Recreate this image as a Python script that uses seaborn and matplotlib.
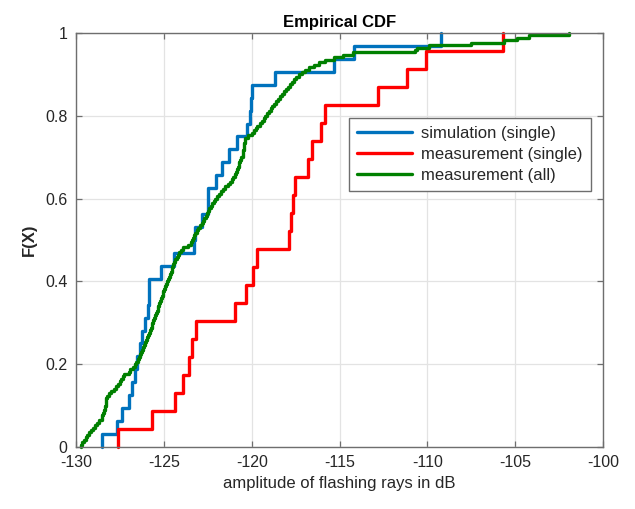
import numpy as np
import pandas as pd
import matplotlib
matplotlib.use("Agg")
import matplotlib.pyplot as plt
import seaborn as sns

# ---- data (sample values in dB) ----
simulation_single = [
    -128.51, -127.66, -127.38, -127.00, -126.80, -126.65, -126.50, -126.38,
    -126.25, -126.05, -125.90, -125.87, -125.85, -125.17, -124.45, -123.30,
    -123.22, -122.84, -122.50, -122.47, -122.03, -121.70, -121.27, -120.86,
    -120.29, -120.10, -120.05, -120.00, -118.65, -115.34, -114.15, -109.25,
]

measurement_single = [
    -127.63, -125.68, -124.36, -123.90, -123.56, -123.37, -123.17, -120.95,
    -120.33, -119.95, -119.69, -117.87, -117.74, -117.65, -117.55, -116.80,
    -116.55, -116.07, -115.85, -112.82, -111.18, -110.05, -105.68,
]

measurement_all = [
    -129.74, -129.65, -129.55, -129.45, -129.36, -129.26, -129.16, -129.05,
    -128.93, -128.82, -128.67, -128.54, -128.50, -128.46, -128.42, -128.37,
    -128.33, -128.31, -128.29, -128.27, -128.25, -128.14, -127.99, -127.85,
    -127.71, -127.60, -127.51, -127.43, -127.34, -127.26, -127.00, -126.90,
    -126.78, -126.67, -126.57, -126.49, -126.40, -126.33, -126.28, -126.24,
    -126.19, -126.14, -126.08, -126.03, -125.97, -125.92, -125.86, -125.81,
    -125.75, -125.70, -125.65, -125.59, -125.54, -125.49, -125.45, -125.40,
    -125.35, -125.31, -125.26, -125.21, -125.17, -125.12, -125.07, -125.02,
    -124.97, -124.92, -124.87, -124.82, -124.77, -124.72, -124.67, -124.62,
    -124.56, -124.51, -124.46, -124.40, -124.35, -124.27, -124.19, -124.11,
    -124.03, -123.89, -123.65, -123.48, -123.41, -123.34, -123.27, -123.20,
    -123.11, -123.03, -122.94, -122.85, -122.76, -122.69, -122.62, -122.55,
    -122.48, -122.41, -122.32, -122.24, -122.16, -122.07, -121.98, -121.87,
    -121.76, -121.64, -121.51, -121.37, -121.24, -121.14, -121.04, -120.94,
    -120.87, -120.83, -120.79, -120.75, -120.71, -120.66, -120.60, -120.52,
    -120.49, -120.47, -120.45, -120.43, -120.41, -120.39, -120.36, -120.22,
    -119.99, -119.89, -119.78, -119.67, -119.55, -119.44, -119.32, -119.22,
    -119.12, -119.02, -118.92, -118.82, -118.72, -118.60, -118.49, -118.38,
    -118.27, -118.16, -118.05, -117.94, -117.82, -117.70, -117.58, -117.47,
    -117.31, -117.14, -116.98, -116.76, -116.48, -116.17, -115.80, -115.30,
    -114.80, -114.24, -110.70, -110.60, -109.90, -107.53, -105.64, -104.88,
    -104.22, -101.95,
]

series_labels = ["simulation (single)", "measurement (single)", "measurement (all)"]
series_colors = ["#0072BD", "#FF0000", "#008000"]
x_ticks = [-130, -125, -120, -115, -110, -105, -100]
y_ticks = [0, 0.2, 0.4, 0.6, 0.8, 1]
y_tick_labels = ["0", "0.2", "0.4", "0.6", "0.8", "1"]

df = pd.concat([
    pd.DataFrame({"value": simulation_single, "series": series_labels[0]}),
    pd.DataFrame({"value": measurement_single, "series": series_labels[1]}),
    pd.DataFrame({"value": measurement_all, "series": series_labels[2]}),
], ignore_index=True)

sns.set_theme(style="white")
plt.rcParams["font.family"] = ["Liberation Sans", "DejaVu Sans"]

fig = plt.figure(figsize=(6.35, 5.09), dpi=100)
ax = fig.add_axes([0.1197, 0.1218, 0.830, 0.8134])

for lab, col in zip(series_labels, series_colors):
    sub = df[df["series"] == lab]
    sns.ecdfplot(data=sub, x="value", ax=ax, color=col, linewidth=2.4, label=lab)

# start each curve at its first sample (seaborn adds a -inf point at y=0)
for line in ax.get_lines():
    xd, yd = line.get_data()
    xd = np.asarray(xd, dtype=float).copy(); yd = np.asarray(yd, dtype=float)
    if len(xd) > 1 and not np.isfinite(xd[0]):
        xd[0] = xd[1]
        line.set_data(xd, yd)
    line.set_clip_on(False)

ax.set_xlim(-130, -100)
ax.set_ylim(0, 1)
ax.set_xticks(x_ticks)
ax.set_xticklabels([str(t) for t in x_ticks])
ax.set_yticks(y_ticks)
ax.set_yticklabels(y_tick_labels)

ax.grid(True, color="#e3e3e3", linewidth=0.9)
ax.set_axisbelow(True)
for s in ax.spines.values():
    s.set_color("#6e6e6e")
    s.set_linewidth(1.0)
    s.set_visible(True)
ax.tick_params(direction="in", length=4, width=0.9, color="#6e6e6e",
               top=True, right=True, bottom=True, left=True,
               labelsize=11.5, labelcolor="#262626", pad=6)

ax.set_title("Empirical CDF", fontsize=12, fontweight="bold", color="#000000", pad=4)
ax.set_xlabel("amplitude of flashing rays in dB", fontsize=12, color="#262626", labelpad=4)
ax.set_ylabel("F(X)", fontsize=12, fontweight="bold", color="#262626", labelpad=6)

leg = ax.legend(loc="upper left", bbox_to_anchor=(0.518, 0.795), borderaxespad=0,
                fontsize=12, frameon=True, fancybox=False, framealpha=1,
                edgecolor="#6e6e6e", handlelength=3.3, borderpad=0.5,
                labelspacing=0.35, handletextpad=0.5)
leg.get_frame().set_linewidth(1.0)

fig.savefig("out.png", dpi=100)
